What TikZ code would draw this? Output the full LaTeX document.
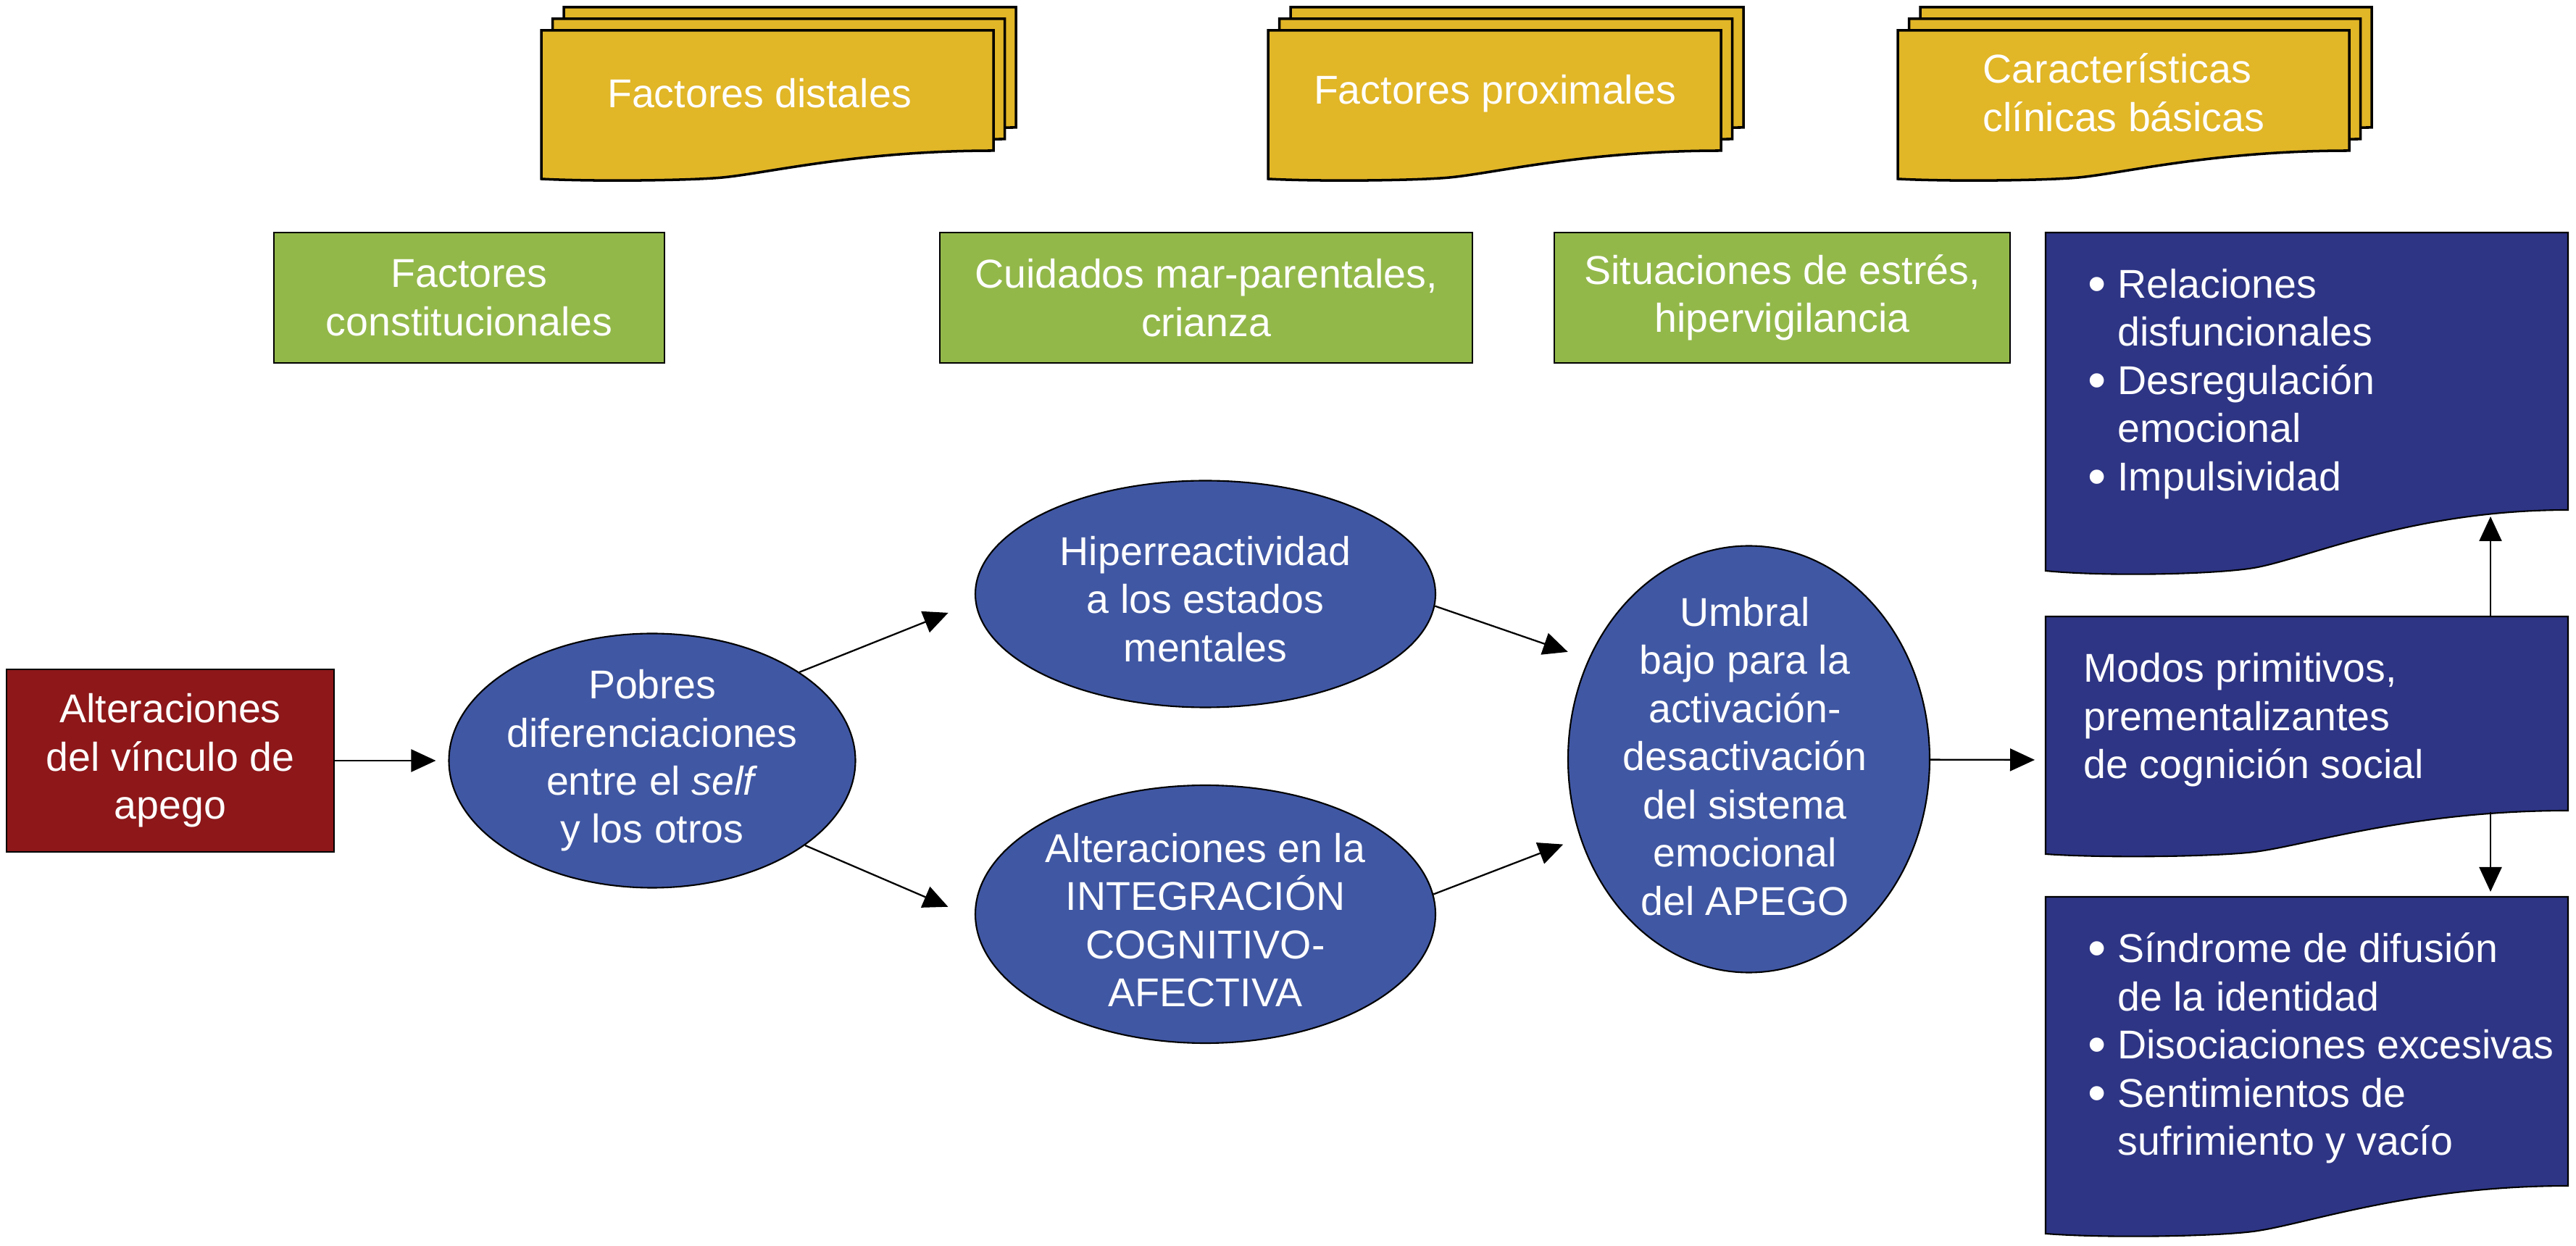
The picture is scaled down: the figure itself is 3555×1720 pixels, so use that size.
\documentclass[tikz,border=0pt]{standalone}
\usepackage{fontspec}
\setmainfont{Liberation Sans}
\usepackage{graphicx}
\usepackage{tikz}
\usetikzlibrary{shapes,arrows.meta,positioning,calc}

\definecolor{docyellow}{RGB}{225,182,39}
\definecolor{boxgreen}{RGB}{147,184,74}
\definecolor{ellblue}{RGB}{64,87,163}
\definecolor{docnavy}{RGB}{46,53,133}
\definecolor{boxred}{RGB}{141,23,25}

\newcommand{\diagfont}{\fontsize{15.8pt}{18.9pt}\selectfont}
\newcommand{\bul}{\raisebox{-0.09em}{\scalebox{1.3}{\textbullet}}\ }

% document shape: style, x1, y1, x2, right bottom, left bottom
\newcommand{\docshape}[6]{%
  \pgfmathsetmacro\docw{(#4)-(#2)}
  \pgfmathsetmacro\docd{(#6)-(#5)}
  \filldraw[#1] (#2,#3) -- (#4,#3) -- (#4,#5)
    .. controls ({#2+0.7*\docw},#5) and ({#2+0.5*\docw},{(#6)-0.2*\docd}) .. ({#2+0.4*\docw},{(#6)-0.05*\docd})
    .. controls ({#2+0.33*\docw},{(#6)+0.055*\docd}) and ({#2+0.12*\docw},{(#6)+0.1*\docd}) .. (#2,#6) -- cycle;
}
% stack of three documents
\newcommand{\docstack}[5]{%
  \docshape{yellowdoc}{#1+31}{#2-32}{#3+31}{#4-32}{#5-32}
  \docshape{yellowdoc}{#1+15.5}{#2-16}{#3+15.5}{#4-16}{#5-16}
  \docshape{yellowdoc}{#1}{#2}{#3}{#4}{#5}
}

\tikzset{
  yellowdoc/.style={fill=docyellow, draw=black, line width=1pt},
  navydoc/.style={fill=docnavy, draw=black, line width=0.6pt}
}

\begin{document}
\begin{tikzpicture}[x=0.1mm, y=-0.1mm,
    arr/.style={-{Triangle[length=3.4mm,width=3.1mm]}, line width=0.65pt},
    txt/.style={text=white, font=\diagfont, align=center, inner sep=0pt},
    greenbox/.style={draw=black, line width=0.8pt, fill=boxgreen, minimum height=18mm},
    ellnode/.style={ellipse, draw=black, line width=0.6pt, fill=ellblue, inner sep=0pt}]
    \useasboundingbox (0,0) rectangle (3555,1720);

    % Factores (documentos apilados)
    \docstack{747}{42}{1371}{208}{247}
    \docstack{1750}{42}{2375}{208}{247}
    \docstack{2619}{42}{3242}{208}{247}
    \node [txt] (distales) at (1048,129) {Factores distales};
    \node [txt] (proximales) at (2063,129) {Factores proximales};
    \node [txt, align=left] (clinicas) at (2931,128) {Características\\clínicas básicas};

    % Cajas verdes
    \node [greenbox, txt, minimum width=53.9mm] (constit) at (647.5,411) {Factores\\constitucionales};
    \node [greenbox, txt, minimum width=73.5mm] (cuidados) at (1664.5,411) {Cuidados mar-parentales,\\crianza};
    \node [greenbox, txt, minimum width=62.9mm] (estres) at (2459.5,411) {Situaciones de estrés,\\hipervigilancia};

    % Origen
    \node [txt, draw=black, line width=0.8pt, fill=boxred, minimum width=45.2mm, minimum height=25.2mm] (vinculo) at (235,1050) {Alteraciones\\del vínculo de\\apego};

    % Elipses
    \node [ellnode, minimum width=56.1mm, minimum height=35.1mm] (pobres) at (900,1050) {};
    \node [txt] (pobrestxt) at (pobres) {Pobres\\diferenciaciones\\entre el \textit{self}\\y los otros};
    \node [ellnode, minimum width=63.5mm, minimum height=31.3mm] (hiper) at (1663.5,820) {};
    \node [txt] (hipertxt) at (1663.5,827) {Hiperreactividad\\a los estados\\mentales};
    \node [ellnode, minimum width=63.5mm, minimum height=35.6mm] (alter) at (1663.5,1262) {};
    \node [txt] (altertxt) at (1663.5,1270) {Alteraciones en la\\INTEGRACIÓN\\COGNITIVO-\\AFECTIVA};
    \node [ellnode, minimum width=49.9mm, minimum height=58.9mm] (umbral) at (2413.5,1048) {};
    \node [txt] (umbraltxt) at (2408,1044) {Umbral\\bajo para la\\activación-\\desactivación\\del sistema\\emocional\\del APEGO};

    % Documentos azules
    \docshape{navydoc}{2823}{321}{3544}{704}{788}
    \docshape{navydoc}{2823}{851}{3544}{1119}{1179}
    \docshape{navydoc}{2823}{1238}{3544}{1637}{1703}
    \node [txt, align=left, anchor=west] (relaciones) at (2881,530) {\bul Relaciones\\\phantom{\bul}disfuncionales\\\bul Desregulación\\\phantom{\bul}emocional\\\bul Impulsividad};
    \node [txt, align=left, anchor=west] (modos) at (2875,994) {Modos primitivos,\\prementalizantes\\de cognición social};
    \node [txt, align=left, anchor=west] (sindrome) at (2881,1447) {\bul Síndrome de difusión\\\phantom{\bul}de la identidad\\\bul Disociaciones excesivas\\\bul Sentimientos de\\\phantom{\bul}sufrimiento y vacío};

    \coordinate (modosW) at (2823,1049);
    \coordinate (modosN) at (3437,851);
    \coordinate (modosS) at (3437,1121);
    \coordinate (relS) at (3437,707);
    \coordinate (sindN) at (3437,1238);

    % Flechas
    \draw [arr, shorten >=1.7mm] (vinculo) -- (pobres);
    \draw [arr, shorten >=4mm] (pobres.31) -- (hiper.182);
    \draw [arr, shorten >=4mm] (pobres.331) -- (alter.181);
    \draw [arr, shorten >=3mm] (hiper.357) -- (umbral.148);
    \draw [arr, shorten >=2.5mm] (alter.5) -- (umbral.205);
    \draw [arr, shorten >=1.5mm] (umbral) -- (modosW);
    \draw [arr, shorten >=0.6mm] (modosN) -- (relS);
    \draw [arr, shorten >=0.7mm] (modosS) -- (sindN);
\end{tikzpicture}
\end{document}
